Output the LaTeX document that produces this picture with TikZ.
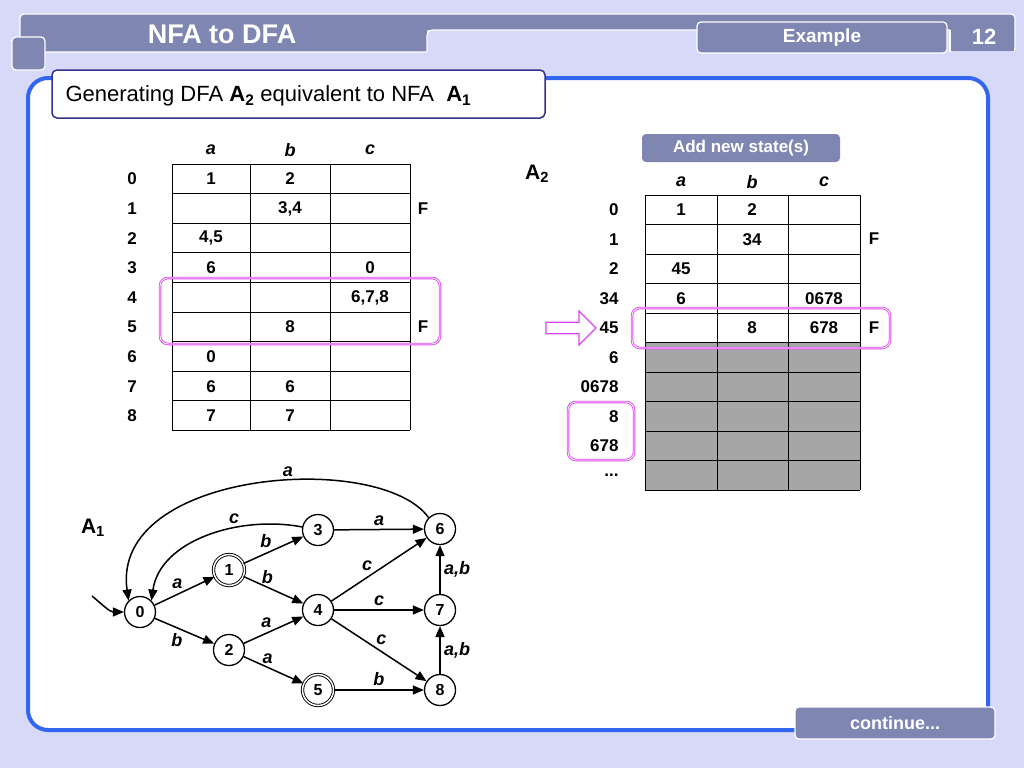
\documentclass[tikz,border=0pt]{standalone}
\usepackage{fontspec}
\setmainfont{Liberation Sans}
\usetikzlibrary{arrows.meta,shapes.arrows}
\definecolor{bg}{HTML}{D6D9F8}
\definecolor{band}{HTML}{7F86B2}
\definecolor{blu}{HTML}{3366EE}
\definecolor{dk}{HTML}{333388}
\definecolor{mag}{HTML}{DD44EE}
\definecolor{gr}{HTML}{A6A6A6}
\begin{document}
\begin{tikzpicture}[x=1pt,y=-1pt,
 cell/.style={font=\fontsize{17}{17}\selectfont\bfseries},
 hd/.style={font=\fontsize{18}{18}\selectfont\bfseries\itshape},
 st/.style={circle,draw,line width=1.3pt,minimum size=31pt,inner sep=0pt,fill=white,font=\fontsize{16}{16}\selectfont\bfseries},
 acc/.style={st,double,double distance=1.5pt,line width=0.9pt},
 ed/.style={line width=1.5pt,-{Triangle[length=11pt,width=9pt]}},
 lb/.style={font=\fontsize{18}{18}\selectfont\bfseries\itshape},
 hl/.style={draw=mag,line width=2.5pt,rounded corners=8pt},
 hlin/.style={draw=white,line width=0.8pt,rounded corners=8pt},
 btn/.style={fill=band,draw=white,line width=1.2pt,rounded corners=4pt}]
\useasboundingbox (0,0) rectangle (1024,768);
\fill[bg] (0,0) rectangle (1024,768);
% header
\draw[btn] (20,14) rectangle (1015,52);
\fill[bg] (427,30) rectangle (1013,53);
\draw[white,line width=1.2pt] (427,52) -- (427,36) arc(180:270:6) -- (1013,30);
\fill[band] (950,29) rectangle (1014,51);
\draw[white,line width=1.2pt] (950,30)--(950,52);
\draw[btn] (12,37) rectangle (45,70);
\draw[btn] (697,22) rectangle (947,53);
\node[white,font=\fontsize{27}{27}\selectfont\bfseries] (t1) at (222,34) {NFA to DFA};
\node[white,font=\fontsize{19}{19}\selectfont\bfseries] (t2) at (822,38) {Example};
\node[white,font=\fontsize{22}{22}\selectfont\bfseries] (t3) at (984,37) {12};
% panel
\draw[blu,line width=4pt,fill=white,rounded corners=20pt] (28,78) rectangle (988,730);
\draw[dk,line width=1.5pt,fill=white,rounded corners=5pt] (52,70) rectangle (545,118);
\node[anchor=west,font=\fontsize{22}{22}\selectfont] (tt) at (62,96) {Generating DFA \textbf{A\textsubscript{2}} equivalent to NFA\ \ \textbf{A\textsubscript{1}}};
\draw[btn] (795,707) rectangle (995,739);
\node[white,font=\fontsize{18}{18}\selectfont\bfseries] (cont) at (895,723) {continue...};
% left table
\foreach \x/\l in {211/a,290/b,370/c}{\node[hd] at (\x,150) {\l};}
\foreach \i in {0,...,9}{\draw[thick] (172,{164+29.6*\i}) -- (410,{164+29.6*\i});}
\foreach \x in {172,250,330,410}{\draw[thick] (\x,164) -- (\x,430.4);}
\foreach \i/\r/\a/\b/\c in {0/0/1/2/,1/1//{3,4}/,2/2/{4,5}//,3/3/6//0,4/4///{6,7,8},5/5//8/,6/6/0//,7/7/6/6/,8/8/7/7/}{
 \node[cell] at (132,{179+29.6*\i}) {\r};
 \node[cell] at (211,{179+29.6*\i}) {\a};
 \node[cell] at (290,{179+29.6*\i}) {\b};
 \node[cell] at (370,{179+29.6*\i}) {\c};}
\node[cell] at (423,209) {F};
\node[cell] at (423,327) {F};
\draw[hl] (160,278) rectangle (440,344);
\draw[hlin] (160,278) rectangle (440,344);
% right table
\draw[btn,draw=none] (642,134) rectangle (840,162);
\node[white,font=\fontsize{17}{17}\selectfont\bfseries] (ns) at (741,148) {Add new state(s)};
\node[font=\fontsize{21}{21}\selectfont\bfseries] (A2) at (537,174) {A\textsubscript{2}};
\foreach \x/\l in {681/a,752/b,824/c}{\node[hd] at (\x,182) {\l};}
\fill[gr] (645,343) rectangle (860,490);
\foreach \i in {0,...,10}{\draw[thick] (645,{195+29.5*\i}) -- (860,{195+29.5*\i});}
\foreach \x in {645,717,788,860}{\draw[thick] (\x,195) -- (\x,490);}
\foreach \i/\r/\a/\b/\c in {0/0/1/2/,1/1//34/,2/2/45//,3/34/6//0678,4/45//8/678,5/6///,6/0678///,7/8///,8/678///}{
 \node[cell,anchor=east] at (622,{210+29.5*\i}) {\r};
 \node[cell] at (681,{210+29.5*\i}) {\a};
 \node[cell] at (752,{210+29.5*\i}) {\b};
 \node[cell] at (824,{210+29.5*\i}) {\c};}
\node[cell,anchor=east] (dots) at (622,475) {...};
\node[cell] at (874,239) {F};
\node[cell] at (874,328) {F};
\draw[hl] (632,308) rectangle (890,348);
\draw[hlin] (632,308) rectangle (890,348);
\draw[hl] (568,402) rectangle (634,460);
\draw[hlin] (568,402) rectangle (634,460);
\node[single arrow,draw=mag,line width=1.2pt,minimum height=50pt,minimum width=34pt,single arrow head extend=5pt,inner sep=2pt] (arr) at (568,328) {};
% graph
\node[font=\fontsize{21}{21}\selectfont\bfseries] (A1) at (93,528) {A\textsubscript{1}};
\node[st] (q0) at (140,612) {0};
\node[acc] (q1) at (229,570) {1};
\node[st] (q2) at (229,650) {2};
\node[st] (q3) at (318,530) {3};
\node[st] (q4) at (318,610) {4};
\node[acc] (q5) at (318,690) {5};
\node[st] (q6) at (440,529) {6};
\node[st] (q7) at (440,610) {7};
\node[st] (q8) at (440,690) {8};
\coordinate (s) at (92,596);
\draw[ed] (s) to[out=-40,in=180] (q0);
\draw[ed] (q0) -- node[lb,above left=-2pt] {a} (q1);
\draw[ed] (q0) -- node[lb,below left=-2pt] {b} (q2);
\draw[ed] (q1) -- node[lb,above left=-2pt] {b} (q3);
\draw[ed] (q1) -- node[lb,above,pos=0.4] {b} (q4);
\draw[ed] (q2) -- node[lb,above left=-2pt] {a} (q4);
\draw[ed] (q2) -- node[lb,above,pos=0.4] {a} (q5);
\draw[ed] (q3) -- node[lb,above] {a} (q6);
\draw[ed] (q4) -- node[lb,above left=-2pt,pos=0.45] {c} (q6);
\draw[ed] (q4) -- node[lb,above] {c} (q7);
\draw[ed] (q4) -- node[lb,above right=-2pt,pos=0.45] {c} (q8);
\draw[ed] (q5) -- node[lb,above] {b} (q8);
\draw[ed] (q7) -- node[lb,right] {a,b} (q6);
\draw[ed] (q8) -- node[lb,right] {a,b} (q7);
\draw[ed] (q3) .. controls (240,515) and (160,540) .. node[lb,above,pos=0.35] {c} (q0.north east);
\draw[ed] (q6.north west) .. controls (380,450) and (110,470) .. node[lb,above,pos=0.42] {a} (q0.north west);
\end{tikzpicture}
\end{document}
